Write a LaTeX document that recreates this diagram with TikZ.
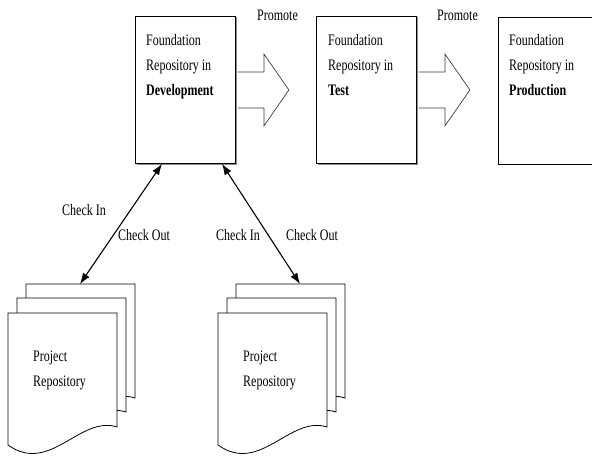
\documentclass[tikz,border=0pt]{standalone}
\usepackage{fontspec}
\setmainfont{Liberation Serif}[FakeStretch=0.75]
\usetikzlibrary{arrows.meta}
\begin{document}
\begin{tikzpicture}[x=1pt,y=-1pt,
  repo/.style={draw=black,line width=0.9pt,fill=white,minimum width=100pt,minimum height=147pt,inner sep=0pt,anchor=north west},
  shade/.style={fill=black!45},
  txt/.style={font=\fontsize{16}{25}\selectfont,inner sep=0pt,anchor=base west},
  promote/.style={draw=black!75,line width=0.7pt,fill=white},
  link/.style={line width=1.1pt,{Latex[length=11pt,width=8pt]}-{Latex[length=11pt,width=8pt]}},
  page/.style={draw=black,line width=0.8pt,fill=white},
  docstack/.pic={
    \foreach \dx/\dy in {18/-29,9/-15,0/0}{
      \draw[page] (\dx,\dy) -- ++(109,0) -- ++(0,114)
        .. controls ++(-37,-12) and ++(42,30) .. ++(-109,18) -- cycle;
    }
  }
]
\clip (0,0) rectangle (592,458);
\fill[white] (0,0) rectangle (592,458);

% foundation repositories
\fill[shade] (137,17) rectangle (237,165);
\node[repo] (dev) at (135,16) {};
\fill[shade] (318,17) rectangle (418,165);
\node[repo] (test) at (316,16) {};
\node[repo,minimum width=110pt] (prod) at (498,17) {};

% promote arrows
\draw[promote] ([xshift=2pt]dev.east) ++(0,-18) -- ++(26,0) -- ++(0,-18)
  -- ++(25,36) -- ++(-25,36) -- ++(0,-18) -- ++(-26,0);
\draw[promote] ([xshift=2pt]test.east) ++(0,-18) -- ++(26,0) -- ++(0,-18)
  -- ++(25,36) -- ++(-25,36) -- ++(0,-18) -- ++(-26,0);
\node[txt] (prom1) at (257,20.5) {Promote};
\node[txt] (prom2) at (437,20.5) {Promote};

% box texts
\node[txt] (d1) at (146,45.5) {Foundation};
\node[txt] (d2) at (146,70.5) {Repository in};
\node[txt] (d3) at (146,95.5) {\textbf{Development}};
\node[txt] (t1) at (328,45.5) {Foundation};
\node[txt] (t2) at (328,70.5) {Repository in};
\node[txt] (t3) at (328,95.5) {\textbf{Test}};
\node[txt] (r1) at (509,45.5) {Foundation};
\node[txt] (r2) at (509,70.5) {Repository in};
\node[txt] (r3) at (509,95.5) {\textbf{Production}};

% project repositories
\pic (stackL) at (8,313) {docstack};
\pic (stackR) at (218,313) {docstack};
\node[txt] (pl1) at (33,361.5) {Project};
\node[txt] (pl2) at (33,386.5) {Repository};
\node[txt] (pr1) at (243,361.5) {Project};
\node[txt] (pr2) at (243,386.5) {Repository};

% check in / out links
\coordinate (devL) at ([xshift=27pt]dev.south west);
\coordinate (devR) at ([xshift=87pt]dev.south west);
\coordinate (topL) at (80,284);
\coordinate (topR) at (300,284);
\draw[link] (devL) -- (topL);
\draw[link] (devR) -- (topR);
\node[txt] (ci1) at (62,215.5) {Check In};
\node[txt] (co1) at (118,240) {Check Out};
\node[txt] (ci2) at (216,240) {Check In};
\node[txt] (co2) at (286,240) {Check Out};
\end{tikzpicture}
\end{document}
